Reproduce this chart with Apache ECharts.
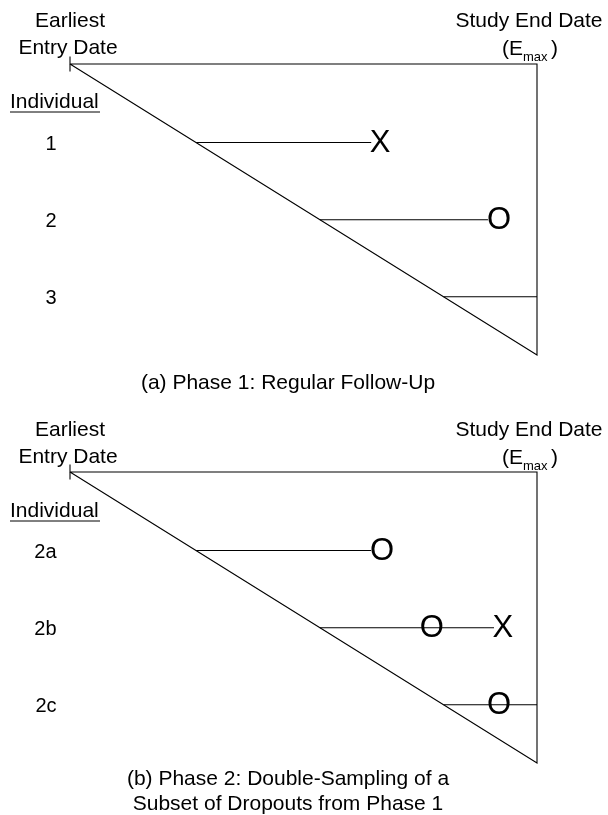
<!DOCTYPE html>
<html>
<head>
<meta charset="utf-8">
<script src="https://cdn.jsdelivr.net/npm/echarts@6/dist/echarts.min.js"></script>
<style>
html,body{margin:0;padding:0;background:#fff;}
#chart{width:608px;height:815px;}
</style>
</head>
<body>
<div id="chart"></div>
<script>
// Time scale: 0 = earliest entry date, 100 = study end date (E_max)
// Vertical position of each individual equals its entry time (diagonal).
const phase1Labels = ['1', '2', '3'];
const phase1Entry = [27, 53.5, 80];
const phase1End = [64.5, 89.5, 100];
const phase1MarkerRow = [0, 1];
const phase1MarkerTime = [66.4, 91.9];
const phase1MarkerSym = ['X', 'O'];

const phase2Labels = ['2a', '2b', '2c'];
const phase2Entry = [27, 53.5, 80];
const phase2End = [64.5, 90.8, 100];
const phase2MarkerRow = [0, 1, 1, 2];
const phase2MarkerTime = [66.8, 77.5, 92.7, 91.9];
const phase2MarkerSym = ['O', 'O', 'X', 'O'];

const captionA = '(a) Phase 1: Regular Follow-Up';
const captionB = ['(b) Phase 2: Double-Sampling of a', 'Subset of Dropouts from Phase 1'];

const FONT = "'Liberation Sans', Arial, Helvetica, sans-serif";
const LABEL_X = -2.78;

function panelSeries(idx, labels, entry, end, mRow, mTime, mSym) {
  const segs = [];
  segs.push({ coords: [[0, 0], [100, 0], [100, 100], [0, 0]] });
  segs.push({ coords: [[0, -2.6], [0, 2.6]] });
  for (let i = 0; i < entry.length; i++) {
    segs.push({ coords: [[entry[i], entry[i]], [end[i], entry[i]]] });
  }
  const markers = mTime.map((t, i) => ({ name: mSym[i], value: [t, entry[mRow[i]] + 0.2] }));
  const rowLabels = labels.map((l, i) => ({ name: l, value: [LABEL_X, entry[i] + 0.6] }));
  return [
    {
      type: 'lines', coordinateSystem: 'cartesian2d', xAxisIndex: idx, yAxisIndex: idx,
      polyline: true, clip: false, silent: true,
      lineStyle: { color: '#000', width: 1.1, opacity: 1 },
      data: segs
    },
    {
      type: 'scatter', xAxisIndex: idx, yAxisIndex: idx, clip: false, silent: true,
      symbolSize: 1, itemStyle: { color: 'rgba(0,0,0,0)', opacity: 1 },
      label: { show: true, position: 'inside', formatter: '{b}', fontSize: 31, color: '#000', opacity: 1,
        textBorderWidth: 0, fontFamily: FONT },
      data: markers
    },
    {
      type: 'scatter', xAxisIndex: idx, yAxisIndex: idx, clip: false, silent: true,
      symbolSize: 1, itemStyle: { color: 'rgba(0,0,0,0)', opacity: 1 },
      label: { show: true, position: 'left', distance: 0, formatter: '{b}', fontSize: 20, color: '#000', opacity: 1,
        textBorderWidth: 0, fontFamily: FONT },
      data: rowLabels
    }
  ];
}

function headerGraphics(dy) {
  const t = (text, x, y, opts) => Object.assign({
    type: 'text', x: x, y: y + dy, silent: true,
    style: Object.assign({ text: text, fontSize: 21, fontFamily: FONT, fill: '#000', align: 'center', verticalAlign: 'middle' }, opts || {})
  });
  return [
    t('Earliest', 70, 21),
    t('Entry Date', 68, 48),
    t('Study End Date', 529, 21),
    t('(E', 523, 49, { align: 'right' }),
    t('max', 523, 57, { align: 'left', fontSize: 13 }),
    t(')', 551, 49, { align: 'left' }),
    t('Individual', 10, 102, { align: 'left' }),
    { type: 'line', silent: true, shape: { x1: 10, y1: 112 + dy, x2: 100, y2: 112 + dy }, style: { stroke: '#000', lineWidth: 1 } }
  ];
}

const chart = echarts.init(document.getElementById('chart'), null, { renderer: 'canvas' });
const axisX = (i) => ({ type: 'value', gridIndex: i, min: 0, max: 100, show: false });
const axisY = (i) => ({ type: 'value', gridIndex: i, min: 0, max: 100, inverse: true, show: false });

chart.setOption({
  animation: false,
  backgroundColor: '#fff',
  grid: [
    { left: 70, top: 64, width: 467, height: 291 },
    { left: 70, top: 472, width: 467, height: 291 }
  ],
  xAxis: [axisX(0), axisX(1)],
  yAxis: [axisY(0), axisY(1)],
  series: [].concat(
    panelSeries(0, phase1Labels, phase1Entry, phase1End, phase1MarkerRow, phase1MarkerTime, phase1MarkerSym),
    panelSeries(1, phase2Labels, phase2Entry, phase2End, phase2MarkerRow, phase2MarkerTime, phase2MarkerSym)
  ),
  graphic: [].concat(
    headerGraphics(0),
    headerGraphics(409),
    [
      { type: 'text', x: 288, y: 383, silent: true, style: { text: captionA, fontSize: 21, fontFamily: FONT, fill: '#000', align: 'center', verticalAlign: 'middle' } },
      { type: 'text', x: 288, y: 779, silent: true, style: { text: captionB[0], fontSize: 21, fontFamily: FONT, fill: '#000', align: 'center', verticalAlign: 'middle' } },
      { type: 'text', x: 288, y: 804, silent: true, style: { text: captionB[1], fontSize: 21, fontFamily: FONT, fill: '#000', align: 'center', verticalAlign: 'middle' } }
    ]
  )
});
</script>
</body>
</html>
